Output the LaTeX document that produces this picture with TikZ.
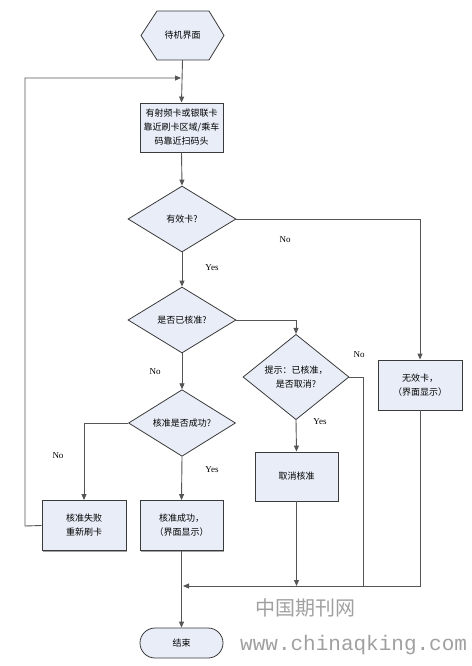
\documentclass[tikz,border=0pt]{standalone}
\usepackage{fontspec}
\setmainfont{Liberation Serif}
\newfontfamily\cjk{Noto Sans CJK SC}
\newfontfamily\wmmono{Liberation Mono}
\usetikzlibrary{shapes.geometric,shapes.misc,arrows.meta,shadows}
\definecolor{boxfill}{HTML}{E8EDF7}
\definecolor{boxline}{HTML}{3A3A3A}
\definecolor{conn}{HTML}{555555}
\definecolor{wm}{HTML}{A0A0A0}
\tikzset{
  procbox/.style={rectangle,draw=boxline,fill=boxfill,line width=0.9pt,
    minimum width=83pt,minimum height=49pt,inner sep=0pt,align=center,
    font=\cjk\fontsize{9}{14}\selectfont,
    drop shadow={shadow xshift=1pt,shadow yshift=-1pt,fill=black!45,opacity=0.8}},
  decide/.style={diamond,draw=boxline,fill=boxfill,line width=0.8pt,
    minimum width=108pt,minimum height=66pt,inner sep=0pt,align=center,
    font=\cjk\fontsize{9}{14}\selectfont},
  termbox/.style={rounded rectangle,draw=boxline,fill=boxfill,line width=0.8pt,
    minimum width=83pt,minimum height=30pt,inner sep=0pt,
    font=\cjk\fontsize{9}{12}\selectfont},
  hexlabel/.style={rectangle,minimum width=83pt,minimum height=49pt,inner sep=0pt,
    font=\cjk\fontsize{9}{12}\selectfont},
  conline/.style={draw=conn,line width=0.9pt},
  arr/.style={conline,-{Triangle[length=6pt,width=5pt]}},
  yn/.style={font=\fontsize{9}{10}\selectfont,inner sep=0pt}
}
\begin{document}
\begin{tikzpicture}[x=1pt,y=-1pt]
\useasboundingbox (0,0) rectangle (471,666);
% start hexagon
\node[hexlabel] (start) at (182.5,35.5) {};
\fill[boxfill] (141,35.5) -- (157,11) -- (209,11) -- (224,35.5) -- (209,60) -- (157,60) -- cycle;
\draw[boxline,line width=0.8pt] (141,35.5) -- (157,11) -- (209,11) -- (224,35.5) -- (209,60) -- (157,60) -- cycle;
\node[hexlabel] at (start.center) {待机界面};

\node[procbox] (read) at (181.5,127.5) {有射频卡或银联卡\\靠近刷卡区域/乘车\\码靠近扫码头};
\node[decide] (d1) at (182,219) {有效卡?};
\node[decide] (d2) at (182,320) {是否已核准?};
\node[decide,minimum width=106pt] (d3) at (296,377) {提示：已核准，\\是否取消?};
\node[decide,minimum width=107pt] (d4) at (182,423) {核准是否成功?};
\node[procbox,minimum width=84pt,minimum height=50pt] (invalid) at (420,385) {无效卡，\\（界面显示）};
\node[procbox] (cancel) at (296.5,476.5) {取消核准};
\node[procbox,minimum width=84pt,minimum height=50pt] (fail) at (84,525.5) {核准失败\\重新刷卡};
\node[procbox,minimum height=50pt] (ok) at (181.5,525.5) {核准成功，\\（界面显示）};
\node[termbox] (end) at (181.5,643) {结束};

\coordinate (loopin) at (182,78);
\coordinate (loopl) at (25,526);
\coordinate (loopt) at (25,78);
\coordinate (merge) at (182,586);
\coordinate (d3r) at (363,377);
\coordinate (d3b) at (363,586);
\coordinate (invb) at (420,586);
\coordinate (cancelb) at (296.5,586);

% connectors
\draw[arr] (start.south) -- (read.north);
\draw[arr] (fail.west) -- (loopl) -- (loopt) -- ([xshift=-1pt]loopin);
\draw[arr] (read.south) -- (d1.north);
\draw[arr] (d1.east) -| (invalid.north);
\draw[arr] (d1.south) -- (d2.north);
\draw[arr] (d2.east) -| (d3.north);
\draw[arr] (d2.south) -- (d4.north);
\draw[arr] (d3.south) -- (cancel.north);
\draw[conline] (d3.east) -- (d3r) -- (d3b);
\draw[arr] (d4.west) -| (fail.north);
\draw[arr] (d4.south) -- (ok.north);
\draw[arr] (cancel.south) -- (cancelb);
\draw[arr] (invalid.south) -- (invb) -- ([xshift=1pt]merge);
\draw[arr] (ok.south) -- (end.north);

% labels
\node[yn] at (285,240) {No};
\node[yn] at (212,268) {Yes};
\node[yn] at (155,372) {No};
\node[yn] at (359,355) {No};
\node[yn] at (320,422) {Yes};
\node[yn] at (58,456) {No};
\node[yn] at (212,470) {Yes};

% watermark
\node[text=wm,font=\cjk\fontsize{20}{22}\selectfont,inner sep=0pt] (wm1) at (305,608) {中国期刊网};
\node[text=wm,font=\wmmono\fontsize{21}{22}\selectfont,inner sep=0pt,anchor=west] (wm2) at (240,645) {www.chinaqking.com};
\end{tikzpicture}
\end{document}
